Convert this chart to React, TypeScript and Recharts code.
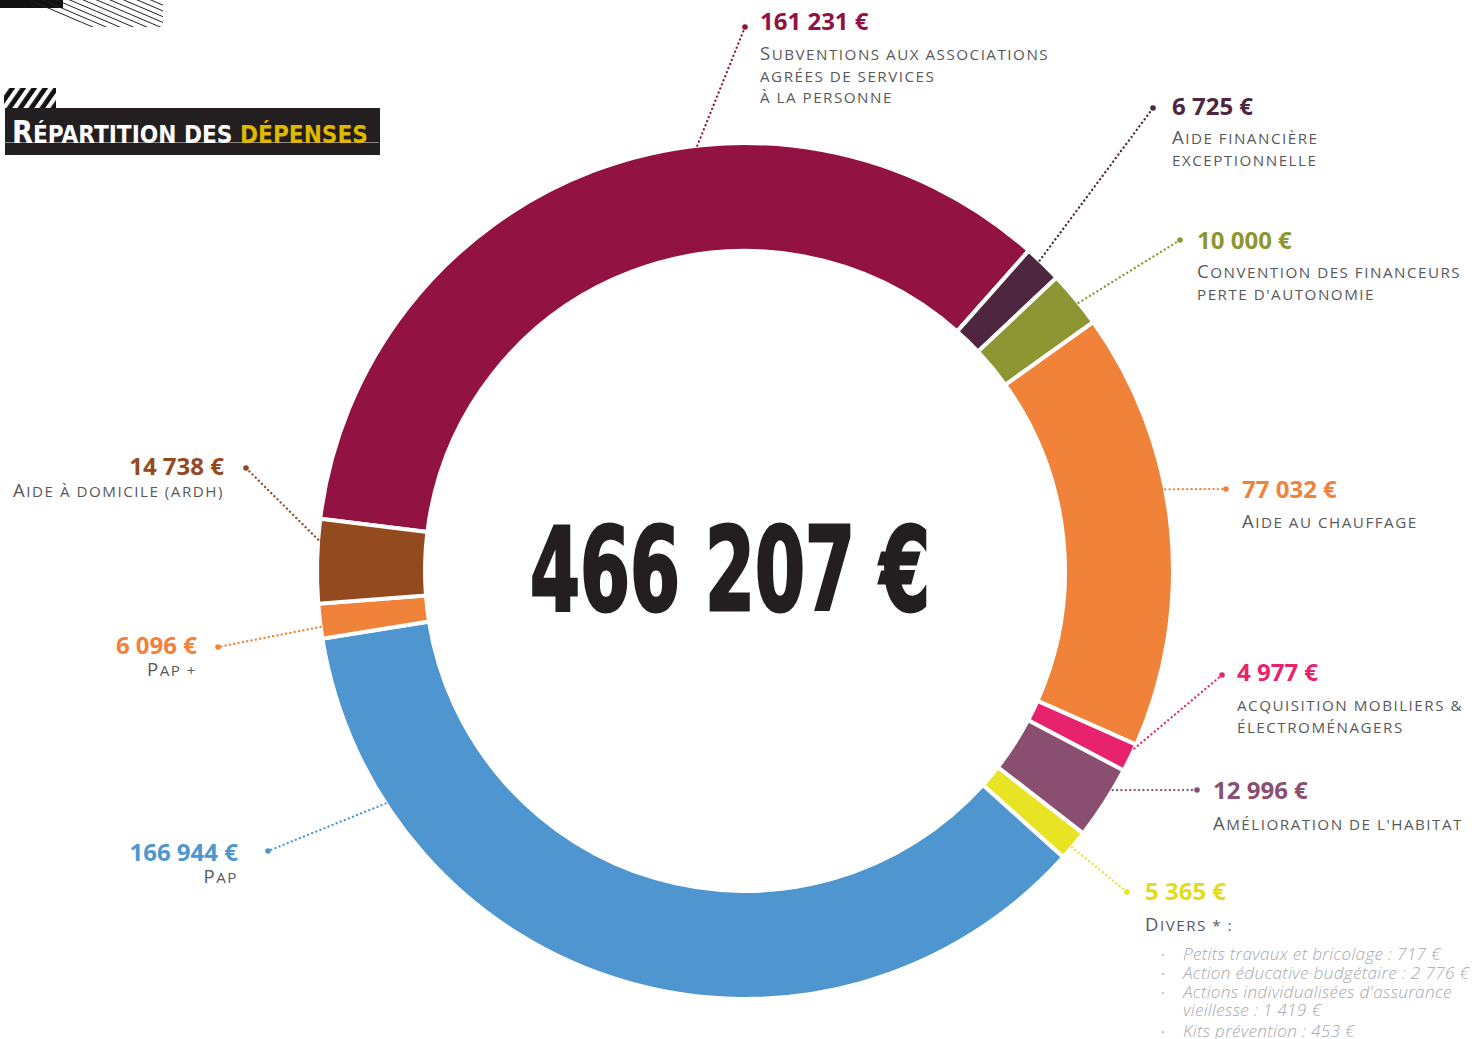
import { PieChart, Pie, Cell, Label } from "recharts";

const categories = [
  "Subventions aux associations agrées de services à la personne",
  "Aide financière exceptionnelle",
  "Convention des financeurs perte d'autonomie",
  "Aide au chauffage",
  "Acquisition mobiliers & électroménagers",
  "Amélioration de l'habitat",
  "Divers",
  "Pap",
  "Pap +",
  "Aide à domicile (ARDH)",
];
const amounts = [161231, 6725, 10000, 77032, 4977, 12996, 5365, 166944, 6096, 14738];
const amountLabels = [
  "161 231 €",
  "6 725 €",
  "10 000 €",
  "77 032 €",
  "4 977 €",
  "12 996 €",
  "5 365 €",
  "166 944 €",
  "6 096 €",
  "14 738 €",
];
const labelLines: string[][] = [
  ["Subventions aux associations", "agrées de services", "à la personne"],
  ["Aide financière", "exceptionnelle"],
  ["Convention des financeurs", "perte d'autonomie"],
  ["Aide au chauffage"],
  ["acquisition mobiliers &", "électroménagers"],
  ["Amélioration de l'habitat"],
  ["Divers * :"],
  ["Pap"],
  ["Pap +"],
  ["Aide à domicile (ardh)"],
];
const colors = [
  "#921341",
  "#4f2640",
  "#8d9632",
  "#f0823a",
  "#e8236d",
  "#8a4f70",
  "#e8e323",
  "#4f96d0",
  "#f0823a",
  "#944a1f",
];
const diversItems = [
  ["Petits travaux et bricolage : 717 €"],
  ["Action éducative budgétaire : 2 776 €"],
  ["Actions individualisées d'assurance", "vieillesse : 1 419 €"],
  ["Kits prévention : 453 €"],
];
const totalLabel = "466 207 €";
const titleLight = "Répartition des ";
const titleAccent = "dépenses";

// where each callout leaves the ring (deg), its dot and its text block
const callouts = [
  { angle: 96.4, dot: [745, 27], x: 760, y: 30, anchor: "start", gap: 30 },
  { angle: 46.5, dot: [1153, 108], x: 1172, y: 115, anchor: "start", gap: 29 },
  { angle: 38.8, dot: [1180, 240], x: 1197, y: 249, anchor: "start", gap: 29 },
  { angle: 11, dot: [1226, 489], x: 1242, y: 498, anchor: "start", gap: 30 },
  { angle: -24.5, dot: [1222, 675], x: 1237, y: 681, anchor: "start", gap: 30 },
  { angle: -30.8, dot: [1197, 790], x: 1213, y: 799, anchor: "start", gap: 31 },
  { angle: -40.2, dot: [1127, 892], x: 1145, y: 900, anchor: "start", gap: 31 },
  { angle: 212.9, dot: [268, 851], x: 238, y: 861, anchor: "end", gap: 22 },
  { angle: 187.5, dot: [218, 647], x: 197, y: 654, anchor: "end", gap: 22 },
  { angle: 175.8, dot: [246, 468], x: 224, y: 475, anchor: "end", gap: 22 },
];

const data = categories.map((name, i) => ({ name, value: amounts[i] }));

const labelFont = "'Open Sans', 'DejaVu Sans', sans-serif";
const condensed = "'Liberation Sans Narrow', 'DejaVu Sans Condensed', 'DejaVu Sans', sans-serif";

// fake small caps: capitals at full size, everything else uppercased smaller
function smallCaps(text: string, big: number, small: number) {
  const runs: { big: boolean; s: string }[] = [];
  for (const ch of text) {
    const isBig = ch !== ch.toLowerCase() && ch === ch.toUpperCase();
    const last = runs[runs.length - 1];
    if (last && last.big === isBig) last.s += ch;
    else runs.push({ big: isBig, s: ch });
  }
  return runs.map((r, i) => (
    <tspan key={i} fontSize={r.big ? big : small}>
      {r.s.toUpperCase()}
    </tspan>
  ));
}

function renderCallout(props: any) {
  const { cx, cy, outerRadius, index } = props;
  const c = callouts[index];
  const rad = (c.angle * Math.PI) / 180;
  const sx = cx + outerRadius * Math.cos(rad);
  const sy = cy - outerRadius * Math.sin(rad);
  const color = colors[index];
  const valueColor = index === 6 ? "#e3dc1c" : color;
  return (
    <g key={`callout-${index}`}>
      <line
        x1={sx}
        y1={sy}
        x2={c.dot[0]}
        y2={c.dot[1]}
        stroke={color}
        strokeWidth={2.3}
        strokeDasharray="0.1 4.3"
        strokeLinecap="round"
      />
      <circle cx={c.dot[0]} cy={c.dot[1]} r={2.8} fill={color} />
      <text
        x={c.x}
        y={c.y}
        textAnchor={c.anchor}
        fill={valueColor}
        fontFamily={labelFont}
        fontWeight={700}
        fontSize={24}
      >
        {amountLabels[index]}
      </text>
      {labelLines[index].map((line, j) => (
        <text
          key={j}
          x={c.x}
          y={c.y + c.gap + j * 21.5}
          textAnchor={c.anchor}
          fill="#58595b"
          fontFamily={labelFont}
          fontWeight={500}
          letterSpacing={1.5}
        >
          {smallCaps(line, 18.5, 15.2)}
        </text>
      ))}
      {index === 6 &&
        (() => {
          let row = 0;
          return diversItems.map((item, k) => {
            const startRow = row;
            row += item.length;
            const y0 = c.y + 60 + startRow * 18.8 + (k === 3 ? 2 : 0);
            return (
              <g key={`d-${k}`}>
                <text x={c.x + 16} y={y0} fill="#a7a9ac" fontSize={14} fontFamily={labelFont}>
                  ·
                </text>
                {item.map((t, m) => (
                  <text
                    key={m}
                    x={c.x + 38}
                    y={y0 + m * 18.8}
                    fill="#a7a9ac"
                    fontSize={17.2}
                    letterSpacing={0.3}
                    fontStyle="italic"
                    fontWeight={300}
                    fontFamily={labelFont}
                  >
                    {t}
                  </text>
                ))}
              </g>
            );
          });
        })()}
    </g>
  );
}

function CenterTotal(props: any) {
  const vb = props.viewBox || {};
  const cx = vb.cx ?? 745;
  const cy = vb.cy ?? 571;
  return (
    <text
      x={cx - 215}
      y={cy + 39}
      fill="#231f20"
      stroke="#231f20"
      strokeWidth={3}
      fontFamily={condensed}
      fontWeight={700}
      fontSize={116}
      textLength={400}
      lengthAdjust="spacingAndGlyphs"
    >
      {totalLabel}
    </text>
  );
}

function Header() {
  const hatch = Array.from({ length: 16 }, (_, i) => i);
  return (
    <svg width={400} height={170} style={{ position: "absolute", left: 0, top: 0 }}>
      <defs>
        <clipPath id="thinHatch">
          <rect x={31} y={0} width={132} height={27} />
        </clipPath>
        <pattern
          id="boldHatch"
          patternUnits="userSpaceOnUse"
          width={9}
          height={9}
          patternTransform="rotate(35)"
        >
          <rect x={0} y={0} width={9} height={9} fill="#111" />
          <rect x={0} y={0} width={4.2} height={9} fill="#fff" />
        </pattern>
      </defs>
      <rect x={0} y={0} width={63} height={8} fill="#111" />
      <g clipPath="url(#thinHatch)">
        {hatch.map((i) => (
          <line
            key={i}
            x1={20 + i * 13.5}
            y1={-4}
            x2={20 + i * 13.5 + 82}
            y2={31}
            stroke="#222"
            strokeWidth={1}
          />
        ))}
      </g>
      <rect x={4} y={88} width={52} height={21} fill="url(#boldHatch)" />
      <rect x={5} y={108} width={375} height={47} fill="#231f20" />
      <line x1={5} y1={142.5} x2={379} y2={142.5} stroke="#8a8a8a" strokeWidth={1} />
      <text
        x={12}
        y={143}
        fontFamily={condensed}
        fontWeight={700}
        stroke="none"
        textLength={356}
        lengthAdjust="spacingAndGlyphs"
      >
        <tspan fill="#ffffff">{smallCaps(titleLight, 32, 25.5)}</tspan>
        <tspan fill="#dfb800">{smallCaps(titleAccent, 32, 25.5)}</tspan>
      </text>
    </svg>
  );
}

export default function App() {
  return (
    <div
      style={{
        position: "absolute",
        left: 0,
        top: 0,
        width: 1483,
        height: 1039,
        background: "#ffffff",
        overflow: "hidden",
      }}
    >
      <PieChart width={1483} height={1039} margin={{ top: 0, right: 0, bottom: 0, left: 0 }}>
        <Pie
          data={data}
          dataKey="value"
          nameKey="name"
          cx={745}
          cy={571}
          innerRadius={320}
          outerRadius={428}
          startAngle={173}
          endAngle={-187}
          stroke="#ffffff"
          strokeWidth={4}
          label={renderCallout}
          labelLine={false}
          isAnimationActive={false}
        >
          {data.map((d, i) => (
            <Cell key={d.name} fill={colors[i]} />
          ))}
          <Label position="center" content={CenterTotal} />
        </Pie>
      </PieChart>
      <Header />
    </div>
  );
}
